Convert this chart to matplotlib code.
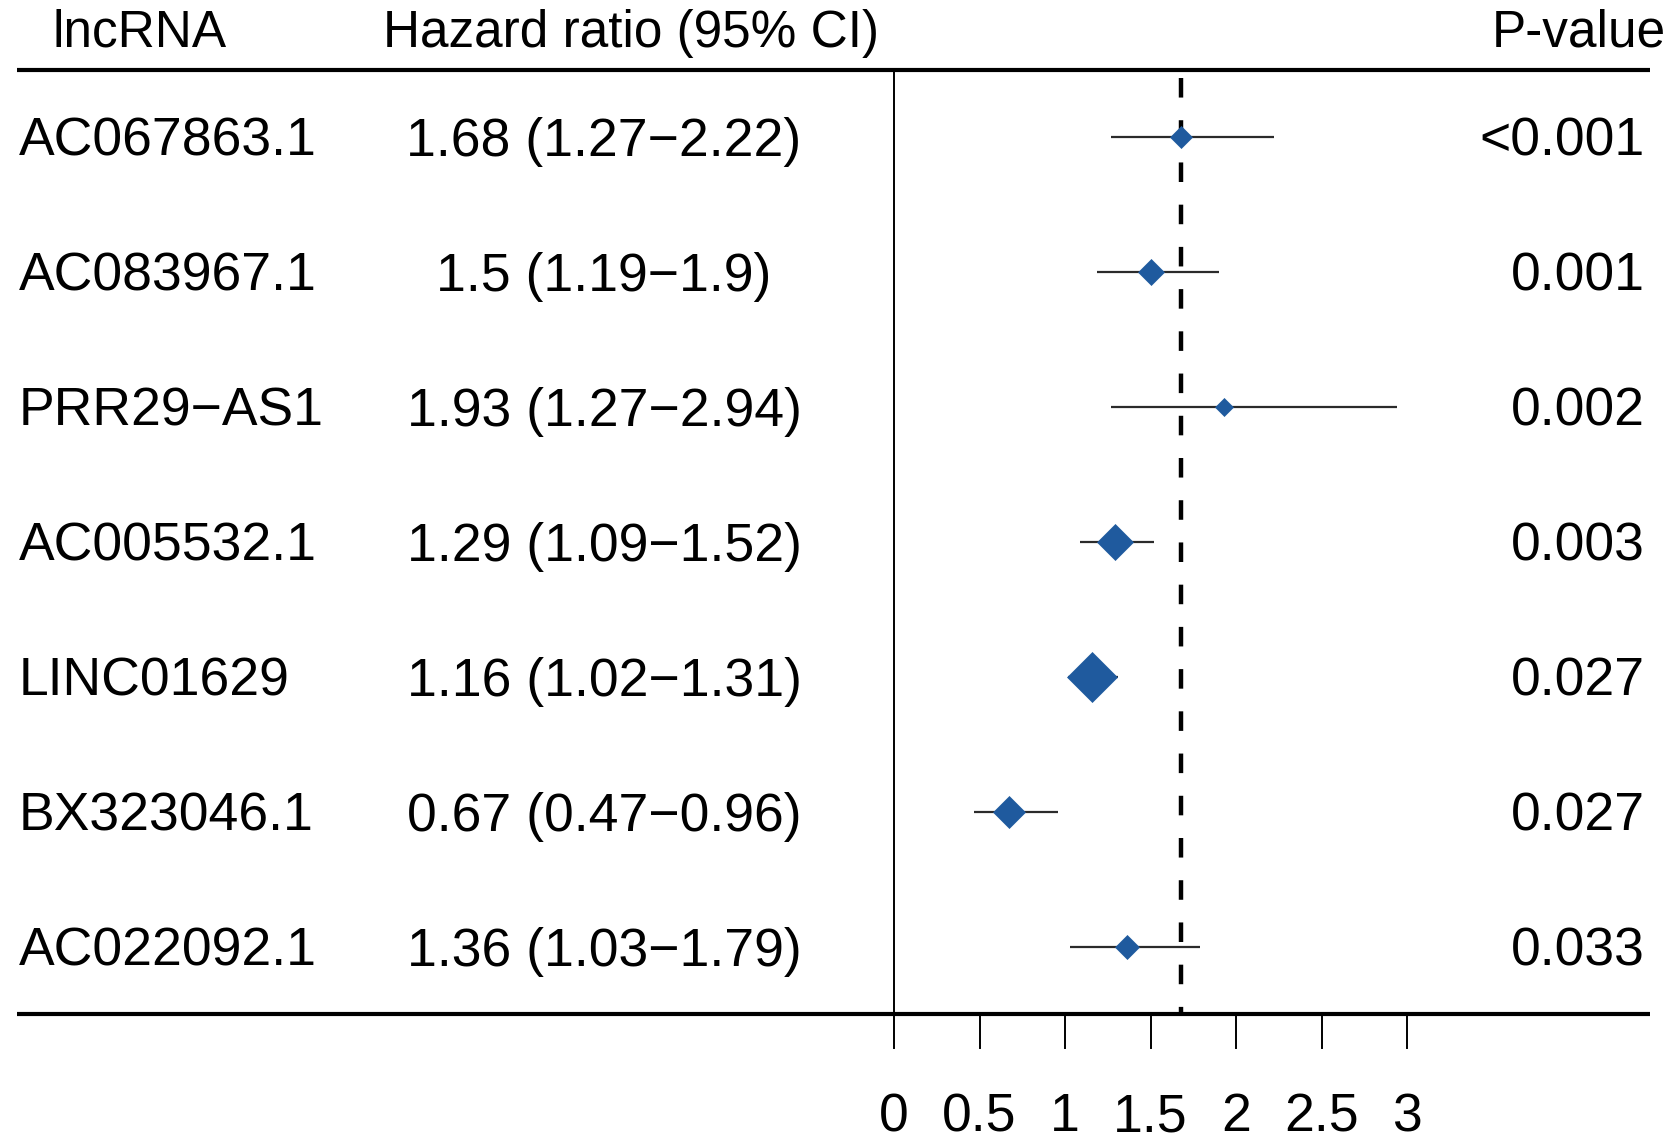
import matplotlib
matplotlib.use("Agg")
import matplotlib.pyplot as plt

# ---- data ----
genes = ["AC067863.1", "AC083967.1", "PRR29−AS1", "AC005532.1",
         "LINC01629", "BX323046.1", "AC022092.1"]
hr = [1.68, 1.5, 1.93, 1.29, 1.16, 0.67, 1.36]
hr_low = [1.27, 1.19, 1.27, 1.09, 1.02, 0.47, 1.03]
hr_high = [2.22, 1.9, 2.94, 1.52, 1.31, 0.96, 1.79]
hr_text = ["1.5" if v == 1.5 else f"{v:.2f}" for v in hr]
pvals = ["<0.001", "0.001", "0.002", "0.003", "0.027", "0.027", "0.033"]
xticks = [0, 0.5, 1, 1.5, 2, 2.5, 3]
xtick_labels = ["0", "0.5", "1", "1.5", "2", "2.5", "3"]
ref_line = 1.68

# ---- styles ----
marker_sizes = [11.5, 13.2, 8.9, 18.0, 25.5, 16.3, 12.0]
diamond_color = "#1F5A9E"
FS = 38.5
FS_HEAD = 37
plt.rcParams["font.family"] = ["Liberation Sans", "DejaVu Sans"]

W, H, DPI = 1677, 1144, 100
fig = plt.figure(figsize=(W / DPI, H / DPI), dpi=DPI)
ax = fig.add_axes([0, 0, 1, 1])
ax.axis("off")

px_per_unit = 171.0
x0_px = 894.0
row0_px = 137.0
row_px = 135.0
ax.set_xlim(-x0_px / px_per_unit, (W - x0_px) / px_per_unit)
ax.set_ylim((H - row0_px) / row_px, -row0_px / row_px)

def px2x(p):
    return (p - x0_px) / px_per_unit

n = len(genes)
rows = list(range(n))
dy_text = 0.035

# header
ax.text(px2x(52), -0.77, "lncRNA", fontsize=FS_HEAD, ha="left", va="center")
ax.text(px2x(631), -0.77, "Hazard ratio (95% CI)", fontsize=FS_HEAD, ha="center", va="center")
ax.text(px2x(1666), -0.77, "P-value", fontsize=FS_HEAD, ha="right", va="center")

# horizontal rules
xl, xr = px2x(17), px2x(1650)
ax.plot([xl, xr], [-0.5, -0.5], color="black", lw=3.0, solid_capstyle="butt")
ax.plot([xl, xr], [n - 0.5, n - 0.5], color="black", lw=3.0, solid_capstyle="butt")

# vertical zero line
ax.plot([0, 0], [-0.5, n - 0.5], color="black", lw=1.4)

# dashed reference line
ax.plot([ref_line, ref_line], [-0.44, n - 0.5], color="black", lw=3.2,
        linestyle=(0, (4.4, 5.1)), dash_capstyle="butt")

# rows
for i in rows:
    ax.text(px2x(19), i + dy_text, genes[i], fontsize=FS, ha="left", va="center")
    ax.text(px2x(604), i + dy_text, f"{hr_text[i]} ({hr_low[i]}−{hr_high[i]})",
            fontsize=FS, ha="center", va="center")
    ax.text(px2x(1645), i + dy_text, pvals[i], fontsize=FS, ha="right", va="center")
    ax.plot([hr_low[i], hr_high[i]], [i, i], color="#2b2b2b", lw=1.6,
            solid_capstyle="butt")
    ax.plot([hr[i]], [i], marker="D", markersize=marker_sizes[i],
            color=diamond_color, markeredgecolor=diamond_color, markeredgewidth=0.5)

# x axis ticks
tick_top, tick_bot = n - 0.5, n - 0.25
for t, lab in zip(xticks, xtick_labels):
    ax.plot([t, t], [tick_top, tick_bot], color="black", lw=1.4)
    ax.text(t, 7.26, lab, fontsize=FS, ha="center", va="center")

fig.savefig("out.png", dpi=DPI)
